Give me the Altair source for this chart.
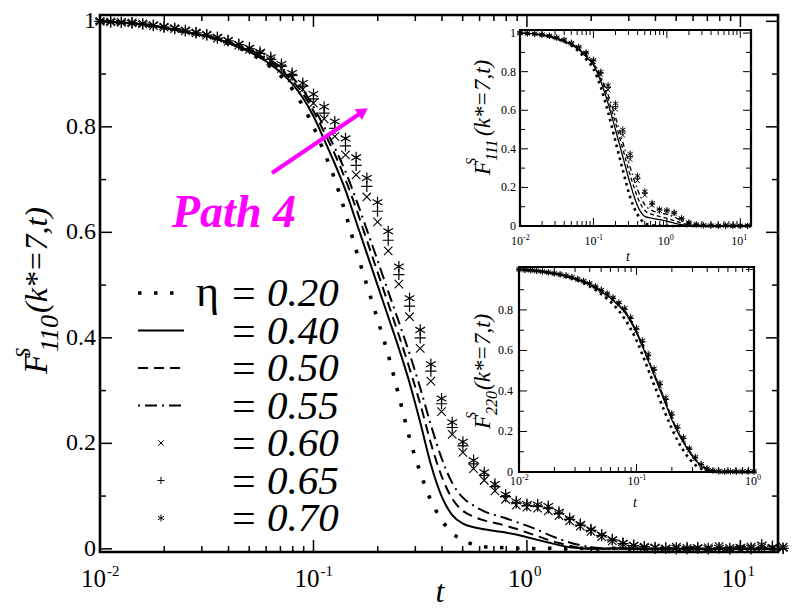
import altair as alt
import pandas as pd

FONT = "Liberation Serif"
W, H = 678, 537

SERIES = ["0.20", "0.40", "0.50", "0.55", "0.60", "0.65", "0.70"]

# ---------------- main panel: F^S_110(k*=7,t) ----------------
L_MAIN = [-2.00, -1.95, -1.90, -1.85, -1.80, -1.75, -1.70, -1.65, -1.60, -1.55,
          -1.50, -1.45, -1.40, -1.35, -1.30, -1.25, -1.20, -1.15, -1.10, -1.05,
          -1.00, -0.95, -0.90, -0.85, -0.80, -0.75, -0.70, -0.65, -0.60, -0.55,
          -0.50, -0.45, -0.40, -0.35, -0.30, -0.25, -0.20, -0.15, -0.10, -0.05,
          0.00, 0.05, 0.10, 0.15, 0.20, 0.25, 0.30, 0.35, 0.40, 0.45,
          0.50, 0.55, 0.60, 0.65, 0.70, 0.75, 0.80, 0.85, 0.90, 0.95,
          1.00, 1.05, 1.10, 1.15, 1.20]

F110_020 = [1.000, 0.999, 0.998, 0.996, 0.994, 0.991, 0.988, 0.984, 0.980, 0.976,
            0.972, 0.966, 0.958, 0.950, 0.940, 0.928, 0.913, 0.895, 0.872, 0.840,
            0.800, 0.752, 0.700, 0.636, 0.566, 0.500, 0.435, 0.368, 0.290, 0.210,
            0.145, 0.092, 0.055, 0.030, 0.016, 0.008, 0.004, 0.003, 0.002, 0.001,
            0.001, 0.000, 0.001, 0.000, 0.000, 0.001, 0.000, 0.000, 0.001, 0.000,
            0.000, 0.000, 0.001, 0.000, 0.000, 0.000, 0.001, 0.000, 0.000, 0.000,
            0.000, 0.001, 0.000, 0.000, 0.000]
F110_040 = [1.000, 0.999, 0.998, 0.996, 0.994, 0.991, 0.988, 0.984, 0.980, 0.976,
            0.972, 0.966, 0.959, 0.951, 0.942, 0.931, 0.918, 0.902, 0.882, 0.855,
            0.820, 0.776, 0.730, 0.680, 0.620, 0.560, 0.500, 0.440, 0.380, 0.315,
            0.240, 0.160, 0.100, 0.064, 0.048, 0.041, 0.037, 0.034, 0.031, 0.027,
            0.022, 0.017, 0.012, 0.007, 0.003, 0.001, 0.000, 0.000, 0.001, 0.000,
            0.000, 0.000, 0.000, 0.001, 0.000, 0.000, 0.000, 0.000, 0.000, 0.001,
            0.000, 0.000, 0.000, 0.000, 0.000]
F110_050 = [1.000, 0.999, 0.998, 0.996, 0.994, 0.991, 0.988, 0.984, 0.980, 0.976,
            0.972, 0.966, 0.960, 0.952, 0.944, 0.934, 0.922, 0.907, 0.888, 0.863,
            0.830, 0.790, 0.748, 0.700, 0.645, 0.585, 0.525, 0.465, 0.405, 0.342,
            0.275, 0.200, 0.138, 0.095, 0.072, 0.061, 0.054, 0.049, 0.044, 0.038,
            0.031, 0.024, 0.017, 0.011, 0.006, 0.002, 0.001, 0.000, 0.000, 0.001,
            0.000, 0.000, 0.000, 0.000, 0.001, 0.000, 0.000, 0.000, 0.000, 0.000,
            0.000, 0.001, 0.000, 0.000, 0.000]
F110_055 = [1.000, 0.999, 0.998, 0.996, 0.994, 0.991, 0.988, 0.984, 0.980, 0.976,
            0.972, 0.966, 0.961, 0.953, 0.946, 0.937, 0.926, 0.912, 0.894, 0.870,
            0.838, 0.800, 0.760, 0.715, 0.662, 0.605, 0.547, 0.488, 0.430, 0.370,
            0.305, 0.235, 0.172, 0.125, 0.097, 0.082, 0.071, 0.064, 0.058, 0.051,
            0.044, 0.036, 0.027, 0.019, 0.012, 0.007, 0.003, 0.001, 0.000, 0.001,
            0.000, 0.000, 0.000, 0.001, 0.000, 0.000, 0.000, 0.000, 0.000, 0.000,
            0.001, 0.000, 0.000, 0.000, 0.000]
F110_060 = [1.000, 0.999, 0.998, 0.997, 0.995, 0.992, 0.989, 0.986, 0.982, 0.978,
            0.974, 0.968, 0.962, 0.955, 0.947, 0.937, 0.925, 0.911, 0.893, 0.871,
            0.845, 0.815, 0.782, 0.747, 0.709, 0.667, 0.620, 0.565, 0.502, 0.440,
            0.380, 0.318, 0.260, 0.217, 0.183, 0.152, 0.130, 0.110, 0.094, 0.083,
            0.079, 0.077, 0.072, 0.063, 0.053, 0.043, 0.033, 0.023, 0.015, 0.009,
            0.005, 0.003, 0.002, 0.000, 0.003, 0.001, 0.000, 0.002, 0.004, 0.001,
            0.000, 0.003, 0.002, 0.001, 0.003]
F110_065 = [1.000, 0.999, 0.998, 0.997, 0.995, 0.992, 0.989, 0.986, 0.982, 0.978,
            0.974, 0.968, 0.963, 0.956, 0.948, 0.939, 0.928, 0.915, 0.898, 0.877,
            0.853, 0.826, 0.797, 0.764, 0.727, 0.687, 0.640, 0.585, 0.520, 0.460,
            0.400, 0.337, 0.275, 0.230, 0.195, 0.161, 0.139, 0.118, 0.099, 0.087,
            0.082, 0.081, 0.077, 0.067, 0.056, 0.045, 0.035, 0.025, 0.017, 0.010,
            0.006, 0.004, 0.001, 0.002, 0.000, 0.003, 0.001, 0.000, 0.002, 0.001,
            0.004, 0.000, 0.002, 0.005, 0.001]
F110_070 = [1.000, 0.999, 0.998, 0.997, 0.995, 0.993, 0.990, 0.987, 0.983, 0.979,
            0.975, 0.970, 0.964, 0.957, 0.950, 0.942, 0.932, 0.919, 0.902, 0.883,
            0.862, 0.838, 0.810, 0.778, 0.742, 0.703, 0.657, 0.602, 0.535, 0.475,
            0.415, 0.350, 0.285, 0.240, 0.203, 0.168, 0.145, 0.123, 0.103, 0.090,
            0.085, 0.084, 0.081, 0.070, 0.058, 0.047, 0.037, 0.027, 0.018, 0.011,
            0.007, 0.004, 0.003, 0.001, 0.002, 0.000, 0.003, 0.001, 0.002, 0.000,
            0.004, 0.002, 0.008, 0.003, 0.001]

# ---------------- upper inset: F^S_111 ----------------
L_111 = [-2.0, -1.9, -1.8, -1.7, -1.6, -1.5, -1.4, -1.3, -1.2, -1.1,
         -1.0, -0.9, -0.8, -0.7, -0.6, -0.5, -0.4, -0.3, -0.2, -0.1,
         0.0, 0.1, 0.2, 0.3, 0.4, 0.5, 0.6, 0.7, 0.8, 0.9, 1.0, 1.1]
F111_020 = [1.000, 0.998, 0.995, 0.990, 0.982, 0.970, 0.955, 0.935, 0.905, 0.865,
            0.815, 0.720, 0.590, 0.440, 0.290, 0.150, 0.060, 0.015, 0.004, 0.002,
            0.001, 0.000, 0.001, 0.000, 0.000, 0.000, 0.001, 0.000, 0.000, 0.000, 0.000, 0.000]
F111_040 = [1.000, 0.998, 0.995, 0.990, 0.983, 0.972, 0.958, 0.940, 0.913, 0.878,
            0.835, 0.750, 0.635, 0.500, 0.360, 0.220, 0.105, 0.050, 0.040, 0.033,
            0.025, 0.015, 0.007, 0.002, 0.000, 0.001, 0.000, 0.000, 0.000, 0.001, 0.000, 0.000]
F111_050 = [1.000, 0.998, 0.995, 0.990, 0.983, 0.973, 0.960, 0.943, 0.918, 0.884,
            0.843, 0.765, 0.660, 0.535, 0.400, 0.265, 0.150, 0.080, 0.060, 0.050,
            0.040, 0.028, 0.015, 0.006, 0.002, 0.000, 0.001, 0.000, 0.000, 0.000, 0.001, 0.000]
F111_055 = [1.000, 0.998, 0.995, 0.991, 0.984, 0.974, 0.961, 0.945, 0.921, 0.889,
            0.850, 0.775, 0.680, 0.565, 0.435, 0.305, 0.190, 0.110, 0.080, 0.068,
            0.060, 0.047, 0.028, 0.013, 0.005, 0.002, 0.000, 0.001, 0.000, 0.000, 0.000, 0.000]
F111_060 = [1.000, 0.998, 0.996, 0.991, 0.985, 0.975, 0.963, 0.947, 0.924, 0.893,
            0.852, 0.785, 0.705, 0.605, 0.470, 0.345, 0.235, 0.160, 0.108, 0.080,
            0.075, 0.065, 0.037, 0.016, 0.007, 0.003, 0.002, 0.000, 0.003, 0.001, 0.000, 0.002]
F111_065 = [1.000, 0.998, 0.996, 0.992, 0.986, 0.976, 0.964, 0.949, 0.927, 0.897,
            0.857, 0.793, 0.718, 0.620, 0.487, 0.360, 0.248, 0.170, 0.114, 0.084,
            0.079, 0.068, 0.039, 0.017, 0.008, 0.003, 0.001, 0.002, 0.000, 0.003, 0.001, 0.000]
F111_070 = [1.000, 0.999, 0.996, 0.992, 0.986, 0.977, 0.965, 0.950, 0.929, 0.900,
            0.862, 0.800, 0.730, 0.635, 0.500, 0.375, 0.260, 0.180, 0.120, 0.088,
            0.082, 0.070, 0.040, 0.018, 0.008, 0.004, 0.002, 0.001, 0.003, 0.000, 0.002, 0.001]

# ---------------- lower inset: F^S_220 ----------------
L_220 = [-2.00, -1.95, -1.90, -1.85, -1.80, -1.75, -1.70, -1.65, -1.60, -1.55,
         -1.50, -1.45, -1.40, -1.35, -1.30, -1.25, -1.20, -1.15, -1.10, -1.05,
         -1.00, -0.95, -0.90, -0.85, -0.80, -0.75, -0.70, -0.65, -0.60, -0.55,
         -0.50, -0.45, -0.40, -0.35, -0.30, -0.25, -0.20, -0.15, -0.10, -0.05, 0.00]
F220_020 = [1.000, 0.998, 0.995, 0.992, 0.988, 0.984, 0.979, 0.973, 0.966, 0.957,
            0.945, 0.932, 0.917, 0.899, 0.878, 0.855, 0.828, 0.795, 0.755, 0.707,
            0.650, 0.580, 0.505, 0.430, 0.355, 0.283, 0.215, 0.155, 0.105, 0.065,
            0.035, 0.016, 0.006, 0.002, 0.001, 0.000, 0.001, 0.000, 0.000, 0.000, 0.000]
F220_040 = [1.000, 0.998, 0.996, 0.993, 0.989, 0.984, 0.979, 0.973, 0.966, 0.957,
            0.948, 0.937, 0.924, 0.908, 0.890, 0.870, 0.847, 0.820, 0.788, 0.742,
            0.686, 0.620, 0.549, 0.477, 0.405, 0.332, 0.259, 0.196, 0.145, 0.098,
            0.059, 0.030, 0.013, 0.005, 0.002, 0.001, 0.000, 0.001, 0.000, 0.000, 0.000]
F220_050 = [1.000, 0.998, 0.996, 0.993, 0.989, 0.985, 0.980, 0.974, 0.968, 0.959,
            0.950, 0.940, 0.927, 0.911, 0.893, 0.874, 0.852, 0.825, 0.794, 0.748,
            0.692, 0.628, 0.557, 0.486, 0.414, 0.341, 0.267, 0.203, 0.151, 0.102,
            0.062, 0.032, 0.014, 0.006, 0.002, 0.001, 0.000, 0.000, 0.001, 0.000, 0.000]
F220_055 = [1.000, 0.998, 0.996, 0.993, 0.989, 0.985, 0.980, 0.974, 0.968, 0.960,
            0.950, 0.940, 0.928, 0.912, 0.894, 0.875, 0.853, 0.826, 0.795, 0.750,
            0.694, 0.630, 0.560, 0.489, 0.417, 0.344, 0.270, 0.206, 0.154, 0.104,
            0.064, 0.033, 0.014, 0.006, 0.002, 0.001, 0.000, 0.001, 0.000, 0.001, 0.000]
F220_060 = [1.000, 0.998, 0.996, 0.993, 0.989, 0.985, 0.980, 0.975, 0.968, 0.960,
            0.951, 0.941, 0.929, 0.913, 0.895, 0.876, 0.855, 0.828, 0.798, 0.752,
            0.698, 0.635, 0.566, 0.495, 0.423, 0.350, 0.274, 0.210, 0.158, 0.107,
            0.066, 0.034, 0.015, 0.006, 0.003, 0.001, 0.002, 0.000, 0.002, 0.001, 0.002]
F220_065 = [1.000, 0.998, 0.996, 0.993, 0.990, 0.985, 0.980, 0.975, 0.969, 0.961,
            0.952, 0.942, 0.931, 0.915, 0.897, 0.879, 0.858, 0.832, 0.803, 0.758,
            0.705, 0.642, 0.574, 0.503, 0.431, 0.358, 0.281, 0.217, 0.165, 0.112,
            0.070, 0.037, 0.016, 0.007, 0.003, 0.002, 0.003, 0.001, 0.003, 0.002, 0.001]
F220_070 = [1.000, 0.998, 0.996, 0.993, 0.990, 0.986, 0.981, 0.976, 0.970, 0.962,
            0.953, 0.944, 0.933, 0.917, 0.900, 0.882, 0.862, 0.837, 0.810, 0.765,
            0.712, 0.650, 0.583, 0.512, 0.440, 0.368, 0.290, 0.225, 0.172, 0.118,
            0.075, 0.040, 0.018, 0.008, 0.004, 0.003, 0.002, 0.004, 0.002, 0.003, 0.004]

# ---------------- axes / ticks ----------------
MAIN_XDOM = [0.01, 15]
MAIN_YDOM = [-0.006, 1.012]
I1_XDOM = [0.01, 14]
I1_YDOM = [0, 1.016]
I2_XDOM = [0.01, 1]
I2_YDOM = [0, 1.012]

X_MAJOR = [0.01, 0.1, 1, 10]
X_EXP = ["-2", "-1", "0", "1"]
X_MINOR = [0.02, 0.03, 0.04, 0.05, 0.06, 0.07, 0.08, 0.09,
           0.2, 0.3, 0.4, 0.5, 0.6, 0.7, 0.8, 0.9,
           2, 3, 4, 5, 6, 7, 8, 9]
Y_MAJOR = [0, 0.2, 0.4, 0.6, 0.8, 1.0]
Y_LABELS = ["0", "0.2", "0.4", "0.6", "0.8", "1"]
Y_MINOR = [0.1, 0.3, 0.5, 0.7, 0.9]

LEGEND_ETA = [0.20, 0.40, 0.50, 0.55, 0.60, 0.65, 0.70]

# ---------------- scales (pixel frames are layout) ----------------
MX = alt.Scale(type="log", domain=MAIN_XDOM, range=[0, W], nice=False)
MY = alt.Scale(type="linear", domain=MAIN_YDOM, range=[H, 0], nice=False, zero=False)
I1 = dict(left=420, right=651, top=15, bottom=211)
I2 = dict(left=419, right=654, top=252, bottom=457)
X1 = alt.Scale(type="log", domain=I1_XDOM, range=[I1["left"], I1["right"]], nice=False)
Y1 = alt.Scale(type="linear", domain=I1_YDOM, range=[I1["bottom"], I1["top"]], nice=False, zero=False)
X2 = alt.Scale(type="log", domain=I2_XDOM, range=[I2["left"], I2["right"]], nice=False)
Y2 = alt.Scale(type="linear", domain=I2_YDOM, range=[I2["bottom"], I2["top"]], nice=False, zero=False)
MAINF = dict(left=0, right=W, top=0, bottom=H)

X_PATH = "M-1,-1L1,1M-1,1L1,-1"
PLUS_PATH = "M-1,0L1,0M0,-1L0,1"
STAR_PATH = "M0,-1L0,1M-0.87,-0.5L0.87,0.5M-0.87,0.5L0.87,-0.5"

MAIN_STYLE = {
    "0.20": ("line", dict(strokeDash=[3.5, 12.5], strokeWidth=3.6, strokeCap="butt")),
    "0.40": ("line", dict(strokeWidth=2)),
    "0.50": ("line", dict(strokeDash=[10, 6], strokeWidth=2)),
    "0.55": ("line", dict(strokeDash=[2, 5, 12, 5], strokeWidth=2)),
    "0.60": ("point", X_PATH, 72, 1.1),
    "0.65": ("point", PLUS_PATH, 125, 1.2),
    "0.70": ("point", STAR_PATH, 125, 1.2),
}
INSET_STYLE = {
    "0.20": ("line", dict(strokeDash=[2.6, 4], strokeWidth=2.6, strokeCap="butt")),
    "0.40": ("line", dict(strokeWidth=1.3)),
    "0.50": ("line", dict(strokeDash=[4, 3], strokeWidth=1.3)),
    "0.55": ("line", dict(strokeDash=[1.5, 3, 5, 3], strokeWidth=1.3)),
    "0.60": ("point", X_PATH, 22, 0.9),
    "0.65": ("point", PLUS_PATH, 36, 0.9),
    "0.70": ("point", STAR_PATH, 40, 0.9),
}


def curve_layers(L, table, XS, YS, styles):
    out = []
    for name, F in zip(SERIES, table):
        df = pd.DataFrame({"t": [10 ** v for v in L], "F": F})
        enc = dict(x=alt.X("t:Q", scale=XS, axis=None), y=alt.Y("F:Q", scale=YS, axis=None))
        st = styles[name]
        if st[0] == "line":
            out.append(alt.Chart(df).mark_line(color="black", interpolate="monotone", **st[1]).encode(**enc))
        else:
            out.append(alt.Chart(df).mark_point(shape=st[1], size=st[2], filled=False, color="black",
                                                strokeWidth=st[3], opacity=1).encode(**enc))
    return out


def frame_layer(XS, YS, xdom, ydom, sw):
    df = pd.DataFrame({"x0": [xdom[0]], "x1": [xdom[1]], "y0": [ydom[0]], "y1": [ydom[1]]})
    return alt.Chart(df).mark_rect(filled=False, color="black", strokeWidth=sw).encode(
        x=alt.X("x0:Q", scale=XS, axis=None), x2="x1:Q",
        y=alt.Y("y0:Q", scale=YS, axis=None), y2="y1:Q")


def tick_layers(XS, YS, fr, xmaj, xmin, ymaj, ymin, big, small, sw):
    out = []
    for vals, ln in ((xmaj, big), (xmin, small)):
        df = pd.DataFrame({"v": vals})
        for y0, y1 in ((fr["bottom"], fr["bottom"] - ln), (fr["top"], fr["top"] + ln)):
            out.append(alt.Chart(df).mark_rule(color="black", strokeWidth=sw).encode(
                x=alt.X("v:Q", scale=XS, axis=None), y=alt.value(y0), y2=alt.value(y1)))
    for vals, ln in ((ymaj, big), (ymin, small)):
        df = pd.DataFrame({"v": vals})
        for x0, x1 in ((fr["left"], fr["left"] + ln), (fr["right"], fr["right"] - ln)):
            out.append(alt.Chart(df).mark_rule(color="black", strokeWidth=sw).encode(
                y=alt.Y("v:Q", scale=YS, axis=None), x=alt.value(x0), x2=alt.value(x1)))
    return out


def ylabel_layer(YS, vals, labels, xpix, size):
    df = pd.DataFrame({"v": vals, "s": labels})
    return alt.Chart(df).mark_text(font=FONT, fontSize=size, align="right", baseline="middle",
                                   color="black").encode(
        y=alt.Y("v:Q", scale=YS, axis=None), x=alt.value(xpix), text="s:N")


def xlabel_layers(XS, vals, exps, ybase, size, ssize, dx10, dxs, dys):
    df = pd.DataFrame({"v": vals, "b": ["10"] * len(vals), "e": exps})
    base = alt.Chart(df).mark_text(font=FONT, fontSize=size, align="right", baseline="alphabetic",
                                   dx=dx10, color="black").encode(
        x=alt.X("v:Q", scale=XS, axis=None), y=alt.value(ybase), text="b:N")
    sup = alt.Chart(df).mark_text(font=FONT, fontSize=ssize, align="left", baseline="alphabetic",
                                  dx=dxs, color="black").encode(
        x=alt.X("v:Q", scale=XS, axis=None), y=alt.value(ybase - dys), text="e:N")
    return [base, sup]


def txt(s, x, y, size, italic=False, bold=False, angle=0, align="left", color="black", font=FONT):
    kw = dict(font=font, fontSize=size, fontStyle="italic" if italic else "normal",
              fontWeight="bold" if bold else "normal", align=align, baseline="alphabetic", color=color)
    if angle:
        kw["angle"] = angle
    return alt.Chart(pd.DataFrame({"s": [s]})).mark_text(**kw).encode(
        text="s:N", x=alt.value(x), y=alt.value(y))


layers = []

# main curves
layers += curve_layers(L_MAIN, [F110_020, F110_040, F110_050, F110_055, F110_060, F110_065, F110_070],
                       MX, MY, MAIN_STYLE)
# inset curves
layers += curve_layers(L_111, [F111_020, F111_040, F111_050, F111_055, F111_060, F111_065, F111_070],
                       X1, Y1, INSET_STYLE)
layers += curve_layers(L_220, [F220_020, F220_040, F220_050, F220_055, F220_060, F220_065, F220_070],
                       X2, Y2, INSET_STYLE)

# frames and ticks
layers.append(frame_layer(MX, MY, MAIN_XDOM, MAIN_YDOM, 2.6))
layers += tick_layers(MX, MY, MAINF, X_MAJOR, X_MINOR, Y_MAJOR, Y_MINOR, 12, 6, 1.5)
layers.append(frame_layer(X1, Y1, I1_XDOM, I1_YDOM, 2.2))
layers += tick_layers(X1, Y1, I1, X_MAJOR, X_MINOR, Y_MAJOR, Y_MINOR, 8, 5, 1.0)
layers.append(frame_layer(X2, Y2, I2_XDOM, I2_YDOM, 2.2))
layers += tick_layers(X2, Y2, I2, X_MAJOR[:3], X_MINOR[:16], Y_MAJOR, Y_MINOR, 8, 5, 1.0)

# tick labels
layers.append(ylabel_layer(MY, Y_MAJOR, Y_LABELS, -4, 24))
layers += xlabel_layers(MX, X_MAJOR, X_EXP, 572, 25, 15, 6, 7, 11)
layers.append(ylabel_layer(Y1, Y_MAJOR, Y_LABELS, I1["left"] - 4, 12))
layers += xlabel_layers(X1, X_MAJOR, X_EXP, 230, 12, 8, 3, 3, 5)
layers.append(ylabel_layer(Y2, Y_MAJOR[:5], Y_LABELS[:5], I2["left"] - 6, 12))
layers += xlabel_layers(X2, X_MAJOR[:3], X_EXP[:3], 470, 12, 8, 3, 3, 5)

# axis titles
layers.append(txt("t", 340, 587, 32, italic=True, align="center"))
layers.append(txt("t", 528, 246, 14, italic=True, align="center"))
layers.append(txt("t", 535, 492, 14, italic=True, align="center"))

# main y title: F^S_110(k*=7,t)
layers.append(txt("F", -53, 359, 34, italic=True, angle=270))
layers.append(txt("S", -70, 343, 20, italic=True, angle=270))
layers.append(txt("110", -42, 337, 26, italic=True, angle=270))
layers.append(txt("(k*=7,t)", -53, 298, 32, italic=True, angle=270))
# inset titles
layers.append(txt("F", 390, 160, 23, italic=True, angle=270))
layers.append(txt("S", 376, 150, 14, italic=True, angle=270))
layers.append(txt("111", 397, 146, 16, italic=True, angle=270))
layers.append(txt("(k*=7,t)", 390, 121, 23, italic=True, angle=270))
layers.append(txt("F", 390, 414, 23, italic=True, angle=270))
layers.append(txt("S", 376, 404, 14, italic=True, angle=270))
layers.append(txt("220", 397, 400, 16, italic=True, angle=270))
layers.append(txt("(k*=7,t)", 390, 375, 23, italic=True, angle=270))

# legend
LEG_Y = alt.Scale(domain=[0, 6], range=[278, 503], nice=False, zero=False)
leg_df = pd.DataFrame({"row": list(range(7)),
                       "val": ["%.2f" % v for v in LEGEND_ETA],
                       "eq": ["="] * 7})
line_rows = [(0, MAIN_STYLE["0.20"][1]), (1, MAIN_STYLE["0.40"][1]),
             (2, MAIN_STYLE["0.50"][1]), (3, MAIN_STYLE["0.55"][1])]
for r, st in line_rows:
    d = leg_df[leg_df.row == r]
    layers.append(alt.Chart(d).mark_rule(color="black", **st).encode(
        y=alt.Y("row:Q", scale=LEG_Y, axis=None), x=alt.value(38), x2=alt.value(84)))
for r, path, sz in ((4, X_PATH, 28), (5, PLUS_PATH, 50), (6, STAR_PATH, 50)):
    d = leg_df[leg_df.row == r]
    layers.append(alt.Chart(d).mark_point(shape=path, size=sz, filled=False, color="black",
                                          strokeWidth=1, opacity=1).encode(
        y=alt.Y("row:Q", scale=LEG_Y, axis=None), x=alt.value(61)))
layers.append(alt.Chart(leg_df).mark_text(font=FONT, fontSize=42, align="left", baseline="middle",
                                          color="black", dy=1).encode(
    y=alt.Y("row:Q", scale=LEG_Y, axis=None), x=alt.value(132), text="eq:N"))
layers.append(alt.Chart(leg_df).mark_text(font=FONT, fontSize=41, fontStyle="italic", align="left",
                                          baseline="middle", color="black", dy=1).encode(
    y=alt.Y("row:Q", scale=LEG_Y, axis=None), x=alt.value(167), text="val:N"))
layers.append(txt("\u03b7", 96, 291, 44))

# magenta arrow and label
MAG = "#ff00ff"
layers.append(alt.Chart(pd.DataFrame({"a": [0]})).mark_rule(color=MAG, strokeWidth=4).encode(
    x=alt.value(172), y=alt.value(158), x2=alt.value(260), y2=alt.value(98.5)))
layers.append(alt.Chart(pd.DataFrame({"a": [0]})).mark_point(
    shape="triangle-right", filled=True, color=MAG, size=170, angle=326, opacity=1).encode(
    x=alt.value(263), y=alt.value(96.5)))
layers.append(txt("Path 4", 72, 212, 46, italic=True, bold=True, color=MAG))

chart = alt.layer(*layers).resolve_scale(x="independent", y="independent").properties(
    width=W, height=H,
    autosize=alt.AutoSizeParams(type="none"),
    padding={"left": 100, "top": 15, "right": 14, "bottom": 60},
).configure_view(stroke=None).configure(background="white")

chart.save("out.html", embed_options={"renderer": "svg", "actions": False})
